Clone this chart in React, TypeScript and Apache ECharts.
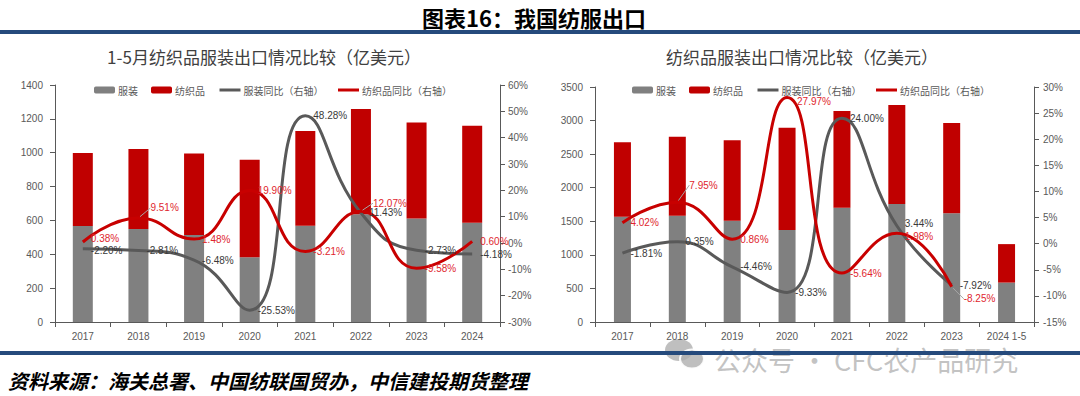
import React, { useEffect, useRef } from 'react';
import * as echarts from 'echarts';

// ---- data ----
const ytdYears = ['2017', '2018', '2019', '2020', '2021', '2022', '2023', '2024'];
const fullYears = ['2017', '2018', '2019', '2020', '2021', '2022', '2023', '2024 1-5'];

// 1-5月 (亿美元)
const ytdApparel = [567, 549, 514, 382, 569, 636, 612, 587];
const ytdTextile = [431, 473, 482, 577, 559, 622, 567, 573];
const ytdApparelYoY = [-2.2, -2.81, -6.48, -25.53, 48.28, 11.43, -2.73, -4.18];
const ytdTextileYoY = [0.38, 9.51, 1.48, 19.9, -3.21, 12.07, -9.58, 0.6];

// 全年 (亿美元)
const fullApparel = [1568, 1583, 1509, 1370, 1703, 1758, 1619, 587];
const fullTextile = [1108, 1177, 1197, 1524, 1440, 1474, 1345, 573];
const fullApparelYoY = [-1.81, 0.35, -4.46, -9.33, 24.0, 3.44, -7.92];
const fullTextileYoY = [4.02, 7.95, 0.86, 27.97, -5.64, 1.98, -8.25];

const seriesNames = ['服装', '纺织品', '服装同比（右轴）', '纺织品同比（右轴）'];

const mainTitle = '图表16：我国纺服出口';
const leftTitle = '1-5月纺织品服装出口情况比较（亿美元）';
const rightTitle = '纺织品服装出口情况比较（亿美元）';
const sourceText = '资料来源：海关总署、中国纺联国贸办，中信建投期货整理';
const watermarkText = '公众号 · CFC农产品研究';

// ---- styles ----
const CJK = '"Noto Sans CJK SC", sans-serif';
const NUM = '"Liberation Sans", "Noto Sans CJK SC", sans-serif';
const BAR_GRAY = '#808080';
const BAR_RED = '#c00000';
const LINE_GRAY = '#595959';
const LINE_RED = '#c80000';
const LABEL_GRAY = '#3a3a3a';
const LABEL_RED = '#e0262e';
const AXIS = '#595959';
const NAVY = '#254a7c';
const CLEAR = 'rgba(0,0,0,0)';

type Shift = { dx: number; dy: number; line: boolean };

const pct = (p: any) => {
  const v = typeof p.value === 'number' ? p.value : Number(p.value);
  return v.toFixed(2) + '%';
};

function xAxisCfg(grid: number, data: string[]) {
  return {
    type: 'category',
    gridIndex: grid,
    data,
    axisLine: { show: true, lineStyle: { color: AXIS, width: 1 } },
    axisTick: { show: true, length: 5, lineStyle: { color: AXIS } },
    axisLabel: { color: AXIS, fontSize: 10, margin: 9, fontFamily: NUM },
  };
}

function yAxisCfg(grid: number, pos: string, min: number, max: number, interval: number, isPct: boolean, margin: number) {
  return {
    type: 'value',
    gridIndex: grid,
    position: pos,
    min,
    max,
    interval,
    splitLine: { show: false },
    axisLine: { show: true, lineStyle: { color: AXIS, width: 1 } },
    axisTick: { show: true, length: 5, lineStyle: { color: AXIS } },
    axisLabel: {
      color: AXIS,
      fontSize: 10,
      margin,
      fontFamily: NUM,
      formatter: (v: number) => (isPct ? String(v) + '%' : String(v)),
    },
  };
}

function barSeries(name: string, xi: number, yi: number, stack: string, data: number[], color: string, width: number) {
  return {
    name,
    type: 'bar',
    xAxisIndex: xi,
    yAxisIndex: yi,
    stack,
    barWidth: width,
    data,
    itemStyle: { color },
    z: 2,
  };
}

function lineSeries(
  name: string,
  xi: number,
  yi: number,
  values: number[],
  color: string,
  labelColor: string,
  moved: Record<number, Shift>
) {
  return {
    name,
    type: 'line',
    xAxisIndex: xi,
    yAxisIndex: yi,
    smooth: 0.5,
    symbol: 'circle',
    symbolSize: 4,
    itemStyle: { color: CLEAR, borderColor: CLEAR, borderWidth: 0 },
    lineStyle: { color, width: 3 },
    z: 5,
    label: {
      show: true,
      position: 'right',
      distance: 6,
      color: labelColor,
      fontSize: 10,
      fontFamily: NUM,
      formatter: pct,
    },
    labelLine: { show: false, lineStyle: { color: '#a6a6a6', width: 1 } },
    labelLayout: (p: any) => {
      const m = moved[p.dataIndex];
      return m ? { dx: m.dx, dy: m.dy } : {};
    },
    data: values.map((v, i) =>
      moved[i] && moved[i].line ? { value: v, labelLine: { show: true } } : v
    ),
  };
}

function legendCfg(left: number, lineColors: string[]) {
  return {
    left,
    top: 80,
    itemWidth: 21,
    itemHeight: 7,
    itemGap: 13,
    textStyle: { color: AXIS, fontSize: 10, fontFamily: CJK, padding: [0, 0, 0, -2] },
    data: [
      { name: seriesNames[0] },
      { name: seriesNames[1] },
      { name: seriesNames[2], itemStyle: { color: CLEAR, borderColor: CLEAR }, lineStyle: { color: lineColors[0], width: 3 } },
      { name: seriesNames[3], itemStyle: { color: CLEAR, borderColor: CLEAR }, lineStyle: { color: lineColors[1], width: 3 } },
    ],
  };
}

export default function App() {
  const ref = useRef<HTMLDivElement>(null);

  useEffect(() => {
    if (!ref.current) return;
    const chart = echarts.init(ref.current, undefined, { renderer: 'svg' });

    const option: any = {
      animation: false,
      backgroundColor: '#ffffff',
      legend: [legendCfg(89, [LINE_GRAY, LINE_RED]), legendCfg(627, [LINE_GRAY, LINE_RED])],
      grid: [
        { left: 55, right: 580, top: 85, bottom: 74, containLabel: false },
        { left: 595, right: 46, top: 87, bottom: 74, containLabel: false },
      ],
      xAxis: [xAxisCfg(0, ytdYears), xAxisCfg(1, fullYears)],
      yAxis: [
        yAxisCfg(0, 'left', 0, 1400, 200, false, 12),
        yAxisCfg(0, 'right', -30, 60, 10, true, 8),
        yAxisCfg(1, 'left', 0, 3500, 500, false, 12),
        yAxisCfg(1, 'right', -15, 30, 5, true, 9),
      ],
      series: [
        barSeries(seriesNames[0], 0, 0, 'L', ytdApparel, BAR_GRAY, 20),
        barSeries(seriesNames[1], 0, 0, 'L', ytdTextile, BAR_RED, 20),
        lineSeries(seriesNames[2], 0, 1, ytdApparelYoY, LINE_GRAY, LABEL_GRAY, {
          0: { dx: 0, dy: 2, line: false },
        }),
        lineSeries(seriesNames[3], 0, 1, ytdTextileYoY, LINE_RED, LABEL_RED, {
          0: { dx: 0, dy: -3, line: false },
          1: { dx: 4, dy: -10, line: true },
          5: { dx: 4, dy: -8, line: true },
        }),
        barSeries(seriesNames[0], 1, 2, 'R', fullApparel, BAR_GRAY, 17),
        barSeries(seriesNames[1], 1, 2, 'R', fullTextile, BAR_RED, 17),
        lineSeries(seriesNames[2], 1, 3, fullApparelYoY, LINE_GRAY, LABEL_GRAY, {
          5: { dx: 0, dy: -2, line: false },
        }),
        lineSeries(seriesNames[3], 1, 3, fullTextileYoY, LINE_RED, LABEL_RED, {
          1: { dx: 4, dy: -17, line: true },
          3: { dx: 2, dy: 4, line: false },
          5: { dx: 0, dy: 3, line: false },
          6: { dx: 4, dy: 12, line: true },
        }),
      ],
      graphic: [
        {
          type: 'text',
          x: 534,
          y: 17,
          style: {
            text: mainTitle,
            fill: '#000000',
            fontSize: 22,
            fontWeight: 'bold',
            fontFamily: CJK,
            align: 'center',
            verticalAlign: 'middle',
            textAlign: 'center',
            textVerticalAlign: 'middle',
          },
        },
        { type: 'rect', shape: { x: 0, y: 30, width: 1080, height: 4 }, style: { fill: NAVY } },
        {
          type: 'text',
          x: 264,
          y: 56,
          style: {
            text: leftTitle,
            fill: '#404040',
            fontSize: 17,
            fontFamily: CJK,
            align: 'center',
            verticalAlign: 'middle',
            textAlign: 'center',
            textVerticalAlign: 'middle',
          },
        },
        {
          type: 'text',
          x: 802,
          y: 56,
          style: {
            text: rightTitle,
            fill: '#404040',
            fontSize: 17,
            fontFamily: CJK,
            align: 'center',
            verticalAlign: 'middle',
            textAlign: 'center',
            textVerticalAlign: 'middle',
          },
        },
        { type: 'rect', shape: { x: 0, y: 351, width: 1080, height: 4 }, style: { fill: NAVY }, z: 10 },
        {
          type: 'text',
          x: 8,
          y: 380,
          style: {
            text: sourceText,
            fill: '#000000',
            fontSize: 20,
            fontWeight: 'bold',
            fontStyle: 'italic',
            fontFamily: CJK,
            align: 'left',
            verticalAlign: 'middle',
            textAlign: 'left',
            textVerticalAlign: 'middle',
          },
        },
        {
          type: 'group',
          z: 20,
          children: [
            { type: 'ellipse', shape: { cx: 679, cy: 350, rx: 14, ry: 11 }, style: { fill: 'rgba(170,170,170,0.75)' } },
            { type: 'ellipse', shape: { cx: 692, cy: 359, rx: 12, ry: 9.5 }, style: { fill: 'rgba(175,175,175,0.8)', stroke: 'rgba(255,255,255,0.9)', lineWidth: 2 } },
            {
              type: 'text',
              x: 714,
              y: 359,
              style: {
                text: watermarkText,
                fill: 'rgba(175,175,175,0.75)',
                fontSize: 27,
                fontFamily: CJK,
                align: 'left',
                verticalAlign: 'middle',
                textAlign: 'left',
                textVerticalAlign: 'middle',
              },
            },
          ],
        },
      ],
    };

    chart.setOption(option);
    return () => chart.dispose();
  }, []);

  return (
    <div
      ref={ref}
      style={{ position: 'absolute', left: 0, top: 0, width: 1080, height: 396, background: '#fff' }}
    />
  );
}
